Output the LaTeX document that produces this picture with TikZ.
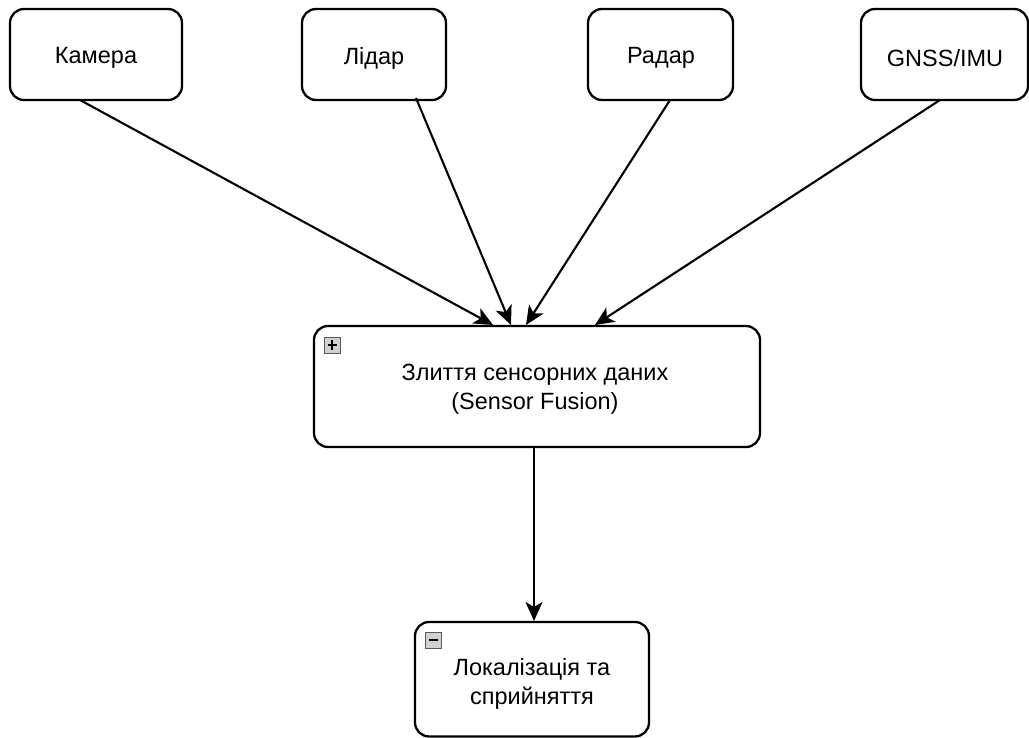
\documentclass[tikz,border=0pt]{standalone}
\usepackage{fontspec}
\setmainfont{Liberation Sans}
\usetikzlibrary{arrows.meta}
\begin{document}
\begin{tikzpicture}[x=1pt,y=-1pt,
  box/.style={draw=black, line width=2.3pt, rounded corners=14pt, fill=white},
  lbl/.style={font=\fontsize{23.5}{29}\selectfont, align=center},
  link/.style={draw=black, line width=2.1pt, -{Stealth[length=19pt,width=17pt,inset=5pt]}},
  toggle/.style={draw=black!65, line width=0.8pt, fill=black!18}
]
\useasboundingbox (0,0) rectangle (1029,738);
\clip (0,0) rectangle (1029,738);

% sensor boxes
\draw[box] (10,9) rectangle (182,100);
\node[lbl] (cam) at (96,58) {Камера};
\draw[box] (302,9) rectangle (446,100);
\node[lbl] (lid) at (374,58) {Лідар};
\draw[box] (588,9) rectangle (733,100);
\node[lbl] (rad) at (661,58) {Радар};
\draw[box] (861,9) rectangle (1028,100);
\node[lbl] (gnss) at (945,58) {GNSS/IMU};

% fusion block
\draw[box] (314,326) rectangle (760,447);
\node[lbl] (fus) at (535,389) {Злиття сенсорних даних\\(Sensor Fusion)};
\draw[toggle] (324,337) rectangle (340,353);
\draw[line width=1.4pt] (327.5,345) -- (336.5,345) (332,340.5) -- (332,349.5);

% localization block
\draw[box] (415,622) rectangle (649,736.5);
\node[lbl] (loc) at (532,684) {Локалізація та\\сприйняття};
\draw[toggle] (425,632) rectangle (441,648);
\draw[line width=1.4pt] (428.5,640) -- (437.5,640);

% anchor points on box edges
\coordinate (camB) at (80,100);
\coordinate (lidB) at (416,98);
\coordinate (radB) at (670,100);
\coordinate (gnssB) at (940,100);
\coordinate (fusT1) at (493,325);
\coordinate (fusT2) at (511,325);
\coordinate (fusT3) at (526,325);
\coordinate (fusT4) at (595,325);
\coordinate (fusB) at (534,447);
\coordinate (locT) at (534,621);

% connectors
\draw[link] (camB) -- (fusT1);
\draw[link] (lidB) -- (fusT2);
\draw[link] (radB) -- (fusT3);
\draw[link] (gnssB) -- (fusT4);
\draw[link] (fusB) -- (locT);
\end{tikzpicture}
\end{document}
